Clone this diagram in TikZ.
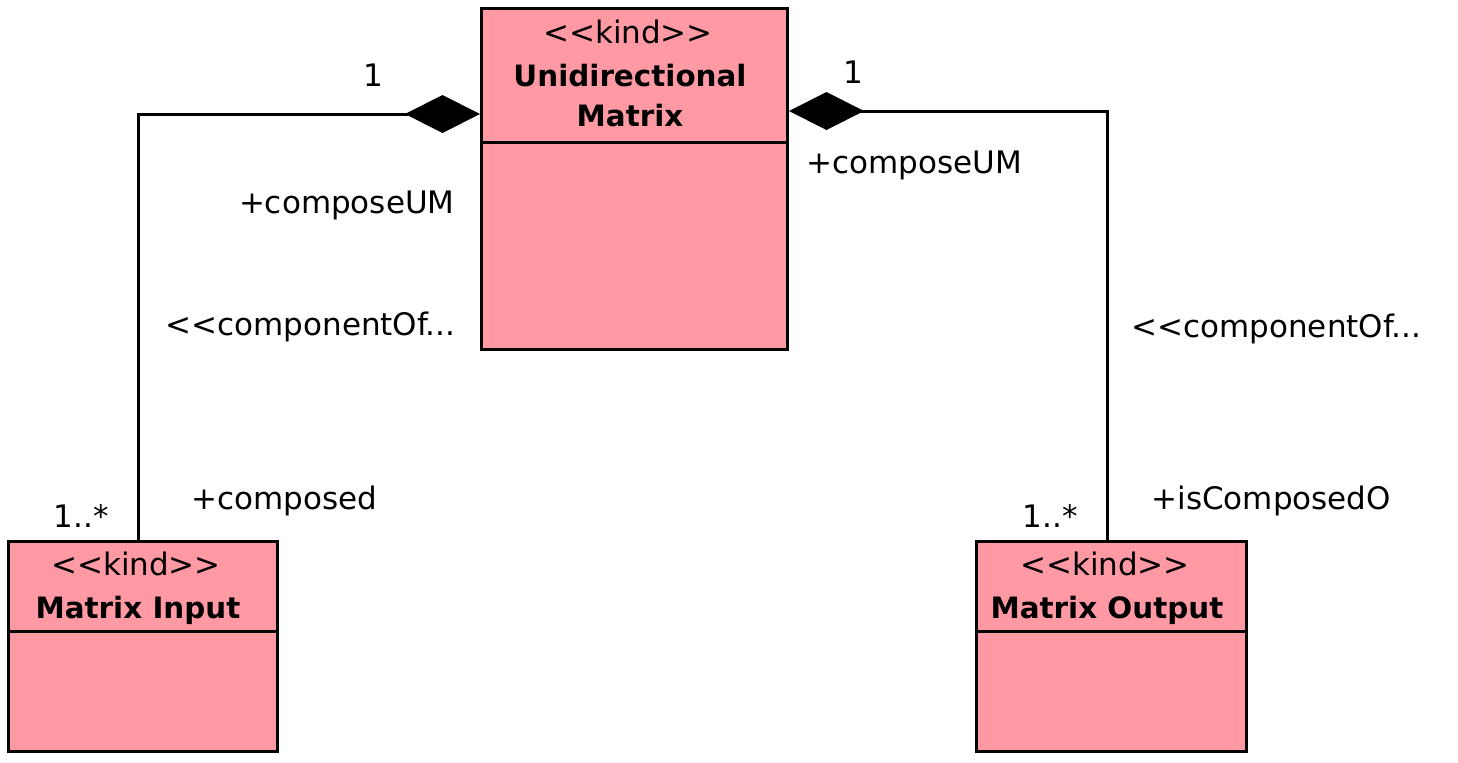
\documentclass[tikz,border=0pt]{standalone}
\usepackage{fontspec}
\setmainfont{DejaVu Sans}
\usetikzlibrary{arrows.meta}
\definecolor{kindpink}{RGB}{255,153,164}
\newcommand{\ltlt}{<\kern0pt<}
\newcommand{\gtgt}{>\kern0pt>}

\begin{document}
\begin{tikzpicture}[x=0.5pt, y=-0.5pt,
			line join=miter, line width=1.5pt,
			every node/.style = {inner sep=0pt, font=\fontsize{15.5pt}{18pt}\selectfont},
			kindbox/.style = {draw, fill=kindpink, anchor=north west},
			kindname/.style = {anchor=base, font=\fontsize{14.7pt}{18pt}\selectfont\bfseries},
			composite/.style = {-{Diamond[length=37.5pt,width=19pt]}}
			]
			\useasboundingbox (0,0) rectangle (1458,762);
			% classes
			\node[kindbox, minimum width=153pt, minimum height=170.5pt] (um) at (480,7) {};
			\node[kindbox, minimum width=134.5pt, minimum height=105pt] (mi) at (7,540) {};
			\node[kindbox, minimum width=135pt, minimum height=105pt] (mo) at (975,540) {};
			\draw ([yshift=-67.5pt]um.north west) -- ([yshift=-67.5pt]um.north east);
			\draw ([yshift=-45.5pt]mi.north west) -- ([yshift=-45.5pt]mi.north east);
			\draw ([yshift=-45.5pt]mo.north west) -- ([yshift=-45.5pt]mo.north east);
			\node[anchor=base] (umkind) at (628,43) {\ltlt kind\gtgt};
			\node[kindname] (umname1) at (630,86) {Unidirectional};
			\node[kindname] (umname2) at (630,126) {Matrix};
			\node[anchor=base] (mikind) at (136,575) {\ltlt kind\gtgt};
			\node[kindname] (miname) at (138,618) {Matrix Input};
			\node[anchor=base] (mokind) at (1105,575) {\ltlt kind\gtgt};
			\node[kindname] (moname) at (1107,618) {Matrix Output};
			% compositions
			\coordinate (lcorner) at (138,114);
			\coordinate (rcorner) at (1107,111);
			\draw[composite] (lcorner |- mi.north) -- (lcorner) -- (um.west |- lcorner);
			\draw[composite] (rcorner |- mo.north) -- (rcorner) -- (um.east |- rcorner);
			% association ends
			\node[anchor=base] (lmultum) at (373,86) {1};
			\node[anchor=base east] (lroleum) at (456,213) {+composeUM};
			\node[anchor=base east] (lstereo) at (457,335) {\ltlt componentOf...};
			\node[anchor=base east] (lmultmi) at (110,527) {1..*};
			\node[anchor=base west] (lrolemi) at (190,509) {+composed};
			\node[anchor=base] (rmultum) at (853,83) {1};
			\node[anchor=base west] (rroleum) at (805,173) {+composeUM};
			\node[anchor=base west] (rstereo) at (1130,337) {\ltlt componentOf...};
			\node[anchor=base east] (rmultmo) at (1079,527) {1..*};
			\node[anchor=base west] (rrolemo) at (1150,509) {+isComposedO};
			\end{tikzpicture}
\end{document}
